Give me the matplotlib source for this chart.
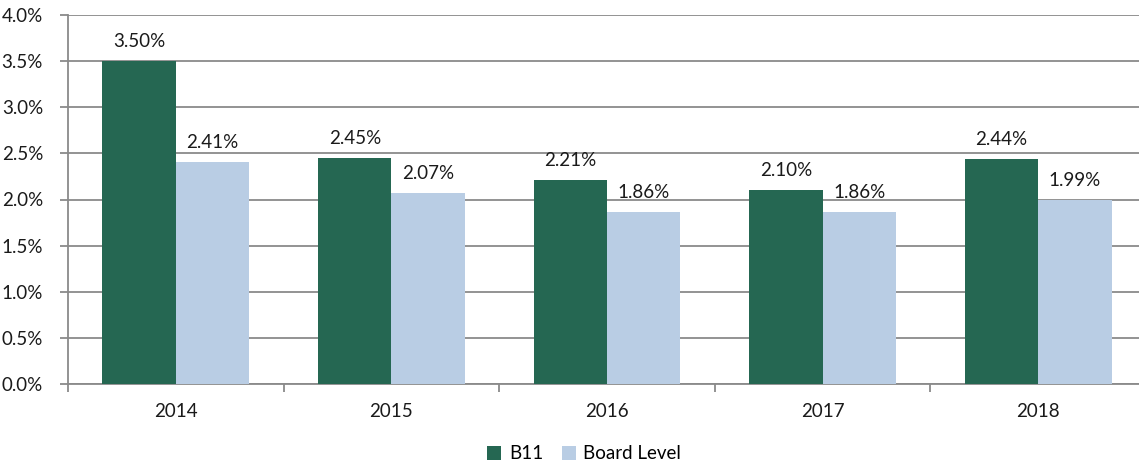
import matplotlib.pyplot as plt
import numpy as np

years = ['2014', '2015', '2016', '2017', '2018']
b11 = [3.50, 2.45, 2.21, 2.10, 2.44]
board = [2.41, 2.07, 1.86, 1.86, 1.99]

green = '#256752'
blue = '#b9cde4'
gray = '#8a8a8a'

plt.rcParams['font.family'] = ['Lato', 'DejaVu Sans']

fig = plt.figure(figsize=(11.39, 4.68), dpi=100)
ax = fig.add_axes([68 / 1139, 84 / 468, 1078 / 1139, 369 / 468])

x = np.arange(len(years))
w = 0.34
bars1 = ax.bar(x - w / 2, b11, w, color=green, label='B11', zorder=3)
bars2 = ax.bar(x + w / 2, board, w, color=blue, label='Board Level', zorder=3)

for bars, vals in [(bars1, b11), (bars2, board)]:
    for b, v in zip(bars, vals):
        ax.annotate(f'{v:.2f}%', (b.get_x() + b.get_width() / 2, v),
                    xytext=(0, 8), textcoords='offset points',
                    ha='center', va='bottom', fontsize=13.5, color='#1a1a1a')

ax.set_xlim(-0.5, len(years) - 0.5)
ax.set_ylim(0, 4.0)
ax.set_yticks(np.arange(0, 4.01, 0.5))
ax.set_yticklabels([f'{v:.1f}%' for v in np.arange(0, 4.01, 0.5)])
ax.yaxis.grid(True, color=gray, linewidth=1.3, zorder=0)

ax.set_xticks(x)
ax.set_xticklabels(years)
ax.set_xticks(np.arange(-0.5, len(years), 1.0), minor=True)
ax.tick_params(axis='x', which='major', length=0, pad=14, labelsize=13.5, labelcolor='#1a1a1a')
ax.tick_params(axis='x', which='minor', length=6, width=1.3, color=gray)
ax.tick_params(axis='y', length=6, width=1.3, color=gray, pad=12, labelsize=13.5, labelcolor='#1a1a1a')

for s in ['top', 'right']:
    ax.spines[s].set_visible(False)
for s in ['left', 'bottom']:
    ax.spines[s].set_color(gray)
    ax.spines[s].set_linewidth(1.3)

fig.legend(loc='center', bbox_to_anchor=(0.513, 0.03), ncol=2, frameon=False,
           fontsize=13.5, handlelength=0.75, handleheight=0.75, handletextpad=0.4,
           columnspacing=1.0)

plt.savefig('out.png', dpi=100)
